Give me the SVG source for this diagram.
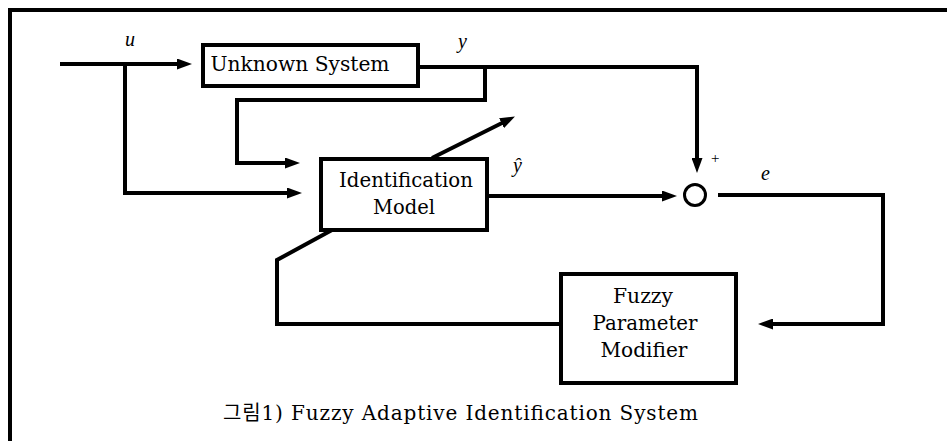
<svg xmlns="http://www.w3.org/2000/svg" width="947" height="441" viewBox="0 0 947 441">
<defs>
<marker id="ah" viewBox="0 0 15 11" refX="5" refY="5.5" markerWidth="15" markerHeight="11" markerUnits="userSpaceOnUse" orient="auto">
<path d="M0,0 L15,5.5 L0,11 Z" fill="#000"/>
</marker>
<style>
.box{fill:#fff;stroke:#000;stroke-width:4}
.ln{fill:none;stroke:#000;stroke-width:4;stroke-linejoin:miter}
text{fill:#000}
.t{font-family:"DejaVu Serif","Liberation Serif",serif;font-size:20px;text-anchor:middle}
.lab{font-family:"Liberation Serif",serif;font-size:20px;font-style:italic}
.cap{font-family:"DejaVu Serif","Noto Sans CJK KR",serif;font-size:20px}
</style>
</defs>
<rect width="947" height="441" fill="#fff"/>
<g id="frame">
<path class="ln" d="M10,441 V10 H947" stroke-width="3.5"/>
</g>
<g id="connectors">
<path class="ln" d="M60,64 H182" marker-end="url(#ah)"/>
<path class="ln" d="M125,64 V193 H292" marker-end="url(#ah)"/>
<path class="ln" d="M418,67 H697 V163" marker-end="url(#ah)"/>
<path class="ln" d="M485,67 V100 H237 V163 H290" marker-end="url(#ah)"/>
<path class="ln" d="M432,158 L506,121" marker-end="url(#ah)"/>
<path class="ln" d="M487,196 H667" marker-end="url(#ah)"/>
<path class="ln" d="M718,195 H883 V324 H768" marker-end="url(#ah)"/>
<path class="ln" d="M560,324 H277 V260 L332,230"/>
</g>
<g id="unknown-system">
<rect class="box" x="203" y="45" width="215" height="41"/>
<text class="t" x="300" y="71" textLength="179" lengthAdjust="spacingAndGlyphs">Unknown System</text>
</g>
<g id="identification-model">
<rect class="box" x="321" y="159" width="166" height="71"/>
<text class="t" x="406" y="187" textLength="134" lengthAdjust="spacingAndGlyphs">Identification</text>
<text class="t" x="404" y="214" textLength="62" lengthAdjust="spacingAndGlyphs">Model</text>
</g>
<g id="summing-junction">
<circle cx="695" cy="195" r="10.5" fill="#fff" stroke="#000" stroke-width="3"/>
</g>
<g id="fuzzy-parameter-modifier">
<rect class="box" x="561" y="274" width="175" height="109"/>
<text class="t" x="643" y="303" textLength="60" lengthAdjust="spacingAndGlyphs">Fuzzy</text>
<text class="t" x="645" y="330" textLength="105" lengthAdjust="spacingAndGlyphs">Parameter</text>
<text class="t" x="644" y="357" textLength="87" lengthAdjust="spacingAndGlyphs">Modifier</text>
</g>
<g id="labels">
<text class="lab" x="125" y="46">u</text>
<text class="lab" x="458" y="48">y</text>
<text class="lab" x="513" y="172">ŷ</text>
<text class="lab" x="761" y="180">e</text>
<text font-family="Liberation Serif, serif" font-size="15" x="711" y="163">+</text>
</g>
<g id="caption">
<text class="cap" x="223" y="420" textLength="475" lengthAdjust="spacing">그림1) Fuzzy Adaptive Identification System</text>
</g>
</svg>
